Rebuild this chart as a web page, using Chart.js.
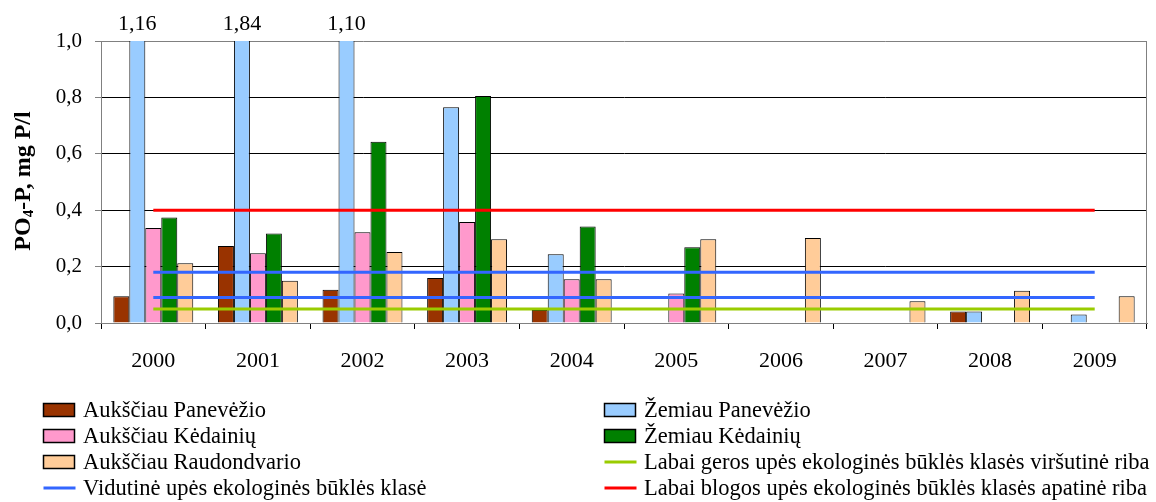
<!DOCTYPE html>
<html>
<head>
<meta charset="utf-8">
<script src="https://cdn.jsdelivr.net/npm/chart.js@4.4.1/dist/chart.umd.min.js"></script>
<style>
  html, body { margin: 0; padding: 0; background: #fff; }
  #wrap { width: 1156px; height: 502px; }
</style>
</head>
<body>
<div id="wrap"><canvas id="po4Chart" width="1156" height="502"></canvas></div>
<script>
// PO4-P concentrations, mg P/l
const years = ['2000', '2001', '2002', '2003', '2004', '2005', '2006', '2007', '2008', '2009'];
const aukPanevezio = [0.095, 0.273, 0.118, 0.160, 0.046, null, null, null, 0.041, null];
const zemPanevezio = [1.16, 1.84, 1.10, 0.765, 0.244, null, null, null, 0.041, 0.030];
const aukKedainiu = [0.337, 0.247, 0.322, 0.358, 0.155, 0.105, null, null, null, null];
const zemKedainiu = [0.374, 0.317, 0.643, 0.805, 0.342, 0.269, null, null, null, null];
const aukRaudondvario = [0.212, 0.150, 0.252, 0.297, 0.155, 0.297, 0.301, 0.077, 0.114, 0.095];

// class limits
const labaiGerosRiba = [0.05, 0.05, 0.05, 0.05, 0.05, 0.05, 0.05, 0.05, 0.05, 0.05];
const vidutineVirsus = [0.18, 0.18, 0.18, 0.18, 0.18, 0.18, 0.18, 0.18, 0.18, 0.18];
const vidutineApacia = [0.09, 0.09, 0.09, 0.09, 0.09, 0.09, 0.09, 0.09, 0.09, 0.09];
const labaiBlogosRiba = [0.4, 0.4, 0.4, 0.4, 0.4, 0.4, 0.4, 0.4, 0.4, 0.4];

const yTicks = [0, 0.2, 0.4, 0.6, 0.8, 1.0];

const FONT = '"Liberation Serif", "Times New Roman", serif';

function bar(label, data, color) {
  return {
    type: 'bar', label: label, data: data, backgroundColor: color,
    borderColor: '#000', borderWidth: 1, order: 2, clip: 0,
    barPercentage: 1.0, categoryPercentage: 0.764
  };
}
function limit(label, data, color) {
  return {
    type: 'line', label: label, data: data, borderColor: color, borderWidth: 3,
    pointRadius: 0, fill: false, order: 1
  };
}

const datasets = [
  bar('Aukščiau Panevėžio', aukPanevezio, '#993300'),
  bar('Žemiau Panevėžio', zemPanevezio, '#99CCFF'),
  bar('Aukščiau Kėdainių', aukKedainiu, '#FF99CC'),
  bar('Žemiau Kėdainių', zemKedainiu, '#008000'),
  bar('Aukščiau Raudondvario', aukRaudondvario, '#FFCC99'),
  limit('Labai geros upės ekologinės būklės klasės viršutinė riba', labaiGerosRiba, '#99CC00'),
  limit('Vidutinė upės ekologinės būklės klasė', vidutineVirsus, '#3366FF'),
  limit('Vidutinė upės ekologinės būklės klasė', vidutineApacia, '#3366FF'),
  limit('Labai blogos upės ekologinės būklės klasės apatinė riba', labaiBlogosRiba, '#FF0000')
];

// legend order as in the picture: row by row, two columns (second blue line shares the entry)
const legendOrder = [0, 1, 2, 3, 4, 5, 6, 8];

const extras = {
  id: 'extras',
  afterDatasetsDraw(chart) {
    const ctx = chart.ctx;
    const area = chart.chartArea;
    // right border of plot
    ctx.save();
    ctx.strokeStyle = '#808080';
    ctx.lineWidth = 1;
    ctx.beginPath();
    ctx.moveTo(Math.round(area.right) - 0.5, area.top);
    ctx.lineTo(Math.round(area.right) - 0.5, area.bottom);
    ctx.stroke();

    // values of bars cut at the top
    ctx.fillStyle = '#000';
    ctx.font = '22px ' + FONT;
    ctx.textAlign = 'center';
    ctx.textBaseline = 'alphabetic';
    const yMax = chart.scales.y.max;
    chart.data.datasets.forEach((ds, i) => {
      if (ds.type !== 'bar') return;
      const meta = chart.getDatasetMeta(i);
      ds.data.forEach((v, j) => {
        if (v !== null && v > yMax) {
          ctx.fillText(v.toFixed(2).replace('.', ','), meta.data[j].x, 30);
        }
      });
    });

    // y axis title with subscript
    ctx.translate(24, 181);
    ctx.rotate(-Math.PI / 2);
    ctx.textAlign = 'left';
    ctx.textBaseline = 'middle';
    const big = 'bold 24px ' + FONT, small = 'bold 15px ' + FONT;
    const parts = [['PO', big, 0], ['4', small, 5], ['-P, mg P/l', big, 0]];
    let w = 0;
    parts.forEach(p => { ctx.font = p[1]; w += ctx.measureText(p[0]).width; });
    let x = -w / 2;
    parts.forEach(p => {
      ctx.font = p[1];
      ctx.fillText(p[0], x, p[2]);
      x += ctx.measureText(p[0]).width;
    });
    ctx.restore();

    // legend
    ctx.save();
    ctx.font = '22.5px ' + FONT;
    ctx.textBaseline = 'middle';
    ctx.textAlign = 'left';
    legendOrder.forEach((di, k) => {
      const ds = chart.data.datasets[di];
      const col = k % 2, row = Math.floor(k / 2);
      const bx = col === 0 ? 43.5 : 604.5;
      const tx = col === 0 ? 83 : 644;
      const cy = 410 + row * 26;
      if (ds.type === 'bar') {
        ctx.fillStyle = ds.backgroundColor;
        ctx.fillRect(bx, cy - 6.5, 31, 13);
        ctx.strokeStyle = '#000';
        ctx.lineWidth = 1.5;
        ctx.strokeRect(bx, cy - 6.5, 31, 13);
      } else {
        ctx.strokeStyle = ds.borderColor;
        ctx.lineWidth = 3;
        ctx.beginPath();
        ctx.moveTo(bx, cy);
        ctx.lineTo(bx + 32, cy);
        ctx.stroke();
      }
      ctx.fillStyle = '#000';
      ctx.fillText(ds.label, tx, cy + 1);
    });
    ctx.restore();
  }
};

new Chart(document.getElementById('po4Chart'), {
  data: { labels: years, datasets: datasets },
  options: {
    responsive: false,
    animation: false,
    devicePixelRatio: 1,
    layout: { padding: { top: 41, right: 9, left: 0, bottom: 0 } },
    plugins: { legend: { display: false }, tooltip: { enabled: false } },
    scales: {
      x: {
        offset: true,
        grid: { offset: true, drawOnChartArea: false, tickLength: 6, tickColor: '#000' },
        border: { color: '#808080' },
        ticks: { color: '#000', font: { family: FONT, size: 22 }, padding: 19, maxRotation: 0 },
        afterFit(scale) { scale.height = 179; }
      },
      y: {
        min: 0, max: 1,
        afterBuildTicks(scale) { scale.ticks = yTicks.map(v => ({ value: v })); },
        grid: {
          color: c => (c.tick.value === 0 || c.tick.value === 1) ? '#808080' : '#000',
          tickLength: 6, tickColor: '#808080'
        },
        border: { color: '#808080' },
        ticks: {
          color: '#000', font: { family: FONT, size: 21 }, padding: 13,
          callback: v => v.toFixed(1).replace('.', ',')
        },
        afterFit(scale) { scale.width = 101; }
      }
    }
  },
  plugins: [extras]
});
</script>
</body>
</html>
